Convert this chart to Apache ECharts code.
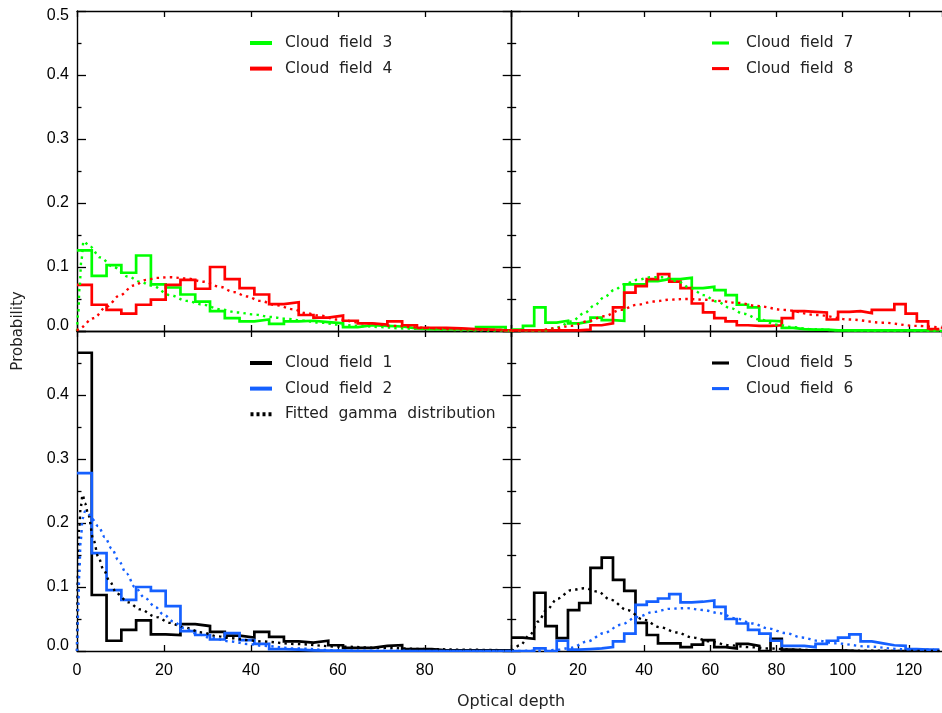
<!DOCTYPE html>
<html>
<head>
<meta charset="utf-8">
<script src="https://cdn.jsdelivr.net/npm/echarts@6/dist/echarts.min.js"></script>
<style>
  html, body { margin: 0; padding: 0; background: #ffffff; }
  #chart { width: 942px; height: 713px; }
</style>
</head>
<body>
<div id="chart"></div>
<script>
// Histogram bin width in optical depth units; bins start at 0.
const binWidth = 3.4;

// Probability per optical-depth bin for each cloud field.
const field1 = [0.466, 0.0875, 0.016, 0.033, 0.048, 0.026, 0.025, 0.042, 0.039, 0.030, 0.024, 0.021, 0.030, 0.022, 0.015, 0.013, 0.016, 0.009, 0.005, 0.005, 0.008, 0.009, 0.003, 0.003, 0.001, 0.001, 0.001, 0.001, 0.001, 0.001];
const field2 = [0.278, 0.153, 0.095, 0.080, 0.100, 0.094, 0.070, 0.031, 0.025, 0.018, 0.028, 0.017, 0.011, 0.003, 0.002, 0.001, 0.0005, 0.0005, 0, 0, 0, 0, 0, 0, 0, 0, 0, 0, 0, 0];
const field3 = [0.126, 0.086, 0.103, 0.091, 0.118, 0.073, 0.068, 0.057, 0.046, 0.031, 0.020, 0.015, 0.018, 0.011, 0.015, 0.016, 0.014, 0.012, 0.006, 0.009, 0.008, 0.007, 0.004, 0.003, 0.003, 0.003, 0.002, 0.006, 0.006, 0];
const field4 = [0.072, 0.041, 0.033, 0.027, 0.041, 0.049, 0.072, 0.080, 0.066, 0.100, 0.081, 0.067, 0.057, 0.042, 0.045, 0.025, 0.021, 0.024, 0.016, 0.012, 0.010, 0.015, 0.009, 0.005, 0.005, 0.004, 0.003, 0.002, 0.001, 0.001];
const field5 = [0.021, 0.019, 0.091, 0.039, 0.020, 0.064, 0.075, 0.130, 0.146, 0.111, 0.094, 0.044, 0.025, 0.012, 0.012, 0.006, 0.010, 0.017, 0.006, 0.004, 0.011, 0.008, 0.000, 0.019, 0.002, 0.001, 0.001, 0.001, 0.001, 0.0005, 0, 0, 0, 0, 0, 0, 0, 0];
const field6 = [0.0, 0.0, 0.004, 0.0, 0.016, 0.002, 0.003, 0.004, 0.006, 0.015, 0.027, 0.072, 0.077, 0.082, 0.089, 0.076, 0.077, 0.079, 0.069, 0.050, 0.043, 0.033, 0.027, 0.016, 0.008, 0.008, 0.006, 0.011, 0.016, 0.021, 0.026, 0.015, 0.012, 0.009, 0.008, 0.003, 0.002, 0.002];
const field7 = [0.002, 0.008, 0.037, 0.013, 0.016, 0.012, 0.015, 0.021, 0.017, 0.016, 0.073, 0.073, 0.078, 0.081, 0.081, 0.083, 0.067, 0.069, 0.064, 0.056, 0.041, 0.037, 0.016, 0.015, 0.005, 0.003, 0.002, 0.002, 0.001, 0.001, 0.001, 0.001, 0.001, 0.001, 0.001, 0.001, 0.001, 0.001];
const field8 = [0.001, 0.001, 0.001, 0.001, 0.001, 0.001, 0.002, 0.009, 0.012, 0.037, 0.060, 0.070, 0.081, 0.089, 0.077, 0.067, 0.043, 0.029, 0.020, 0.015, 0.009, 0.008, 0.008, 0.009, 0.020, 0.031, 0.030, 0.029, 0.018, 0.030, 0.031, 0.028, 0.033, 0.033, 0.042, 0.027, 0.015, 0.003];

// Fitted gamma distributions: [optical depth, probability].
const fit1 = [[0,0],[0.2,0.12],[0.5,0.19],[0.85,0.225],[1.3,0.244],[1.84,0.231],[2.6,0.213],[3.8,0.173],[4.9,0.147],[6.1,0.127],[7.6,0.108],[9.1,0.090],[11.8,0.076],[14.5,0.065],[18.3,0.053],[21.4,0.044],[24.5,0.037],[28.7,0.029],[32.2,0.023],[35.6,0.020],[39.1,0.017],[42.5,0.015],[50,0.011],[60,0.007],[70,0.005],[80,0.003],[90,0.002],[100,0.001]];
const fit2 = [[0,0],[0.05,0.017],[0.3,0.069],[0.53,0.121],[0.84,0.173],[1.3,0.207],[1.84,0.218],[2.5,0.217],[3.4,0.207],[4.9,0.195],[6.4,0.178],[8.0,0.160],[9.5,0.142],[11.4,0.121],[13.3,0.100],[15.6,0.083],[18,0.069],[19.9,0.057],[22.2,0.046],[24.5,0.036],[27.5,0.027],[30.6,0.021],[35.2,0.015],[39.1,0.011],[42.9,0.008],[50,0.004],[60,0.001],[70,0.0003],[100,0]];
const fit3 = [[0,0],[0.3,0.03],[0.6,0.07],[1.0,0.11],[1.5,0.14],[3,0.132],[5.3,0.115],[8.4,0.100],[11.8,0.085],[14.5,0.077],[17.2,0.071],[21.4,0.056],[25.2,0.047],[29.1,0.041],[32.9,0.034],[36.8,0.029],[40.6,0.026],[44.4,0.022],[48.3,0.019],[52,0.016],[56,0.013],[60,0.010],[65,0.008],[70,0.006],[75,0.004],[80,0.003],[90,0.001],[100,0.0005]];
const fit4 = [[0,0],[0.5,0.004],[3.8,0.020],[6.8,0.038],[9.9,0.056],[13,0.071],[16,0.080],[18.3,0.083],[21.4,0.084],[25.2,0.082],[29.1,0.077],[32.9,0.069],[36,0.061],[39.1,0.054],[42.1,0.047],[46,0.040],[49.8,0.034],[52.5,0.028],[55.9,0.024],[59.8,0.018],[66.3,0.012],[72.8,0.008],[79.7,0.005],[86,0.003],[93,0.002],[100,0.001]];
const fit5 = [[0,0],[2.5,0.009],[5.5,0.025],[8,0.046],[10.5,0.064],[13.9,0.082],[17.9,0.095],[21.9,0.098],[25.9,0.093],[29.9,0.080],[34.9,0.064],[39.8,0.049],[44.8,0.037],[49.8,0.029],[54.8,0.021],[59.8,0.015],[65.8,0.009],[71.7,0.006],[77.7,0.004],[85,0.002],[95,0.001],[110,0.0003],[130,0]];
const fit6 = [[0,0],[10,0.0005],[14,0.002],[17.9,0.005],[22.9,0.015],[27.9,0.028],[32.9,0.041],[37.9,0.053],[42.8,0.061],[47.8,0.066],[52.8,0.067],[57.8,0.064],[62.8,0.059],[67.7,0.051],[72.7,0.043],[77.7,0.035],[82.7,0.028],[87.7,0.021],[92.7,0.016],[97.6,0.012],[107.6,0.007],[117.6,0.003],[127.5,0.002]];
const fit7 = [[0,0],[8,0],[10,0.001],[14,0.006],[18,0.015],[22,0.028],[25,0.040],[28,0.053],[31,0.064],[34,0.073],[38,0.080],[42,0.084],[46,0.084],[50,0.078],[54,0.067],[58,0.056],[62,0.046],[66,0.036],[70,0.027],[75,0.018],[80,0.010],[85,0.006],[90,0.003],[100,0.001],[110,0.0003],[130,0]];
const fit8 = [[0,0],[8,0.001],[12.9,0.004],[17.9,0.008],[22.9,0.015],[27.9,0.023],[32.9,0.033],[37.9,0.041],[42.8,0.046],[47.8,0.049],[52.8,0.050],[57.8,0.049],[62.5,0.047],[68.3,0.044],[74.2,0.039],[82.2,0.033],[92.2,0.025],[102.1,0.018],[112.1,0.013],[122.1,0.008],[130,0.005]];

// Axis tick values.
const leftXTicks = [0, 20, 40, 60, 80, 100];
const rightXTicks = [0, 20, 40, 60, 80, 100, 120];
const yTicks = [0, 0.1, 0.2, 0.3, 0.4, 0.5];

const GREEN = '#00ff00', RED = '#ff0000', BLACK = '#000000', BLUE = '#1560ff';
const NUM_FONT = '"Liberation Sans", Arial, sans-serif';
const TEXT_FONT = '"DejaVu Sans", sans-serif';

// Legend keys: a solid bar and a row of dots.
const SOLID_ICON = 'path://M0,0H22V4H0Z';
const DOT_ICON = 'path://M0,0h3v4h-3z M6,0h3v4h-3z M12,0h3v4h-3z M18,0h3v4h-3z';

// Panel geometry: 0 top-left, 1 top-right, 2 bottom-left, 3 bottom-right.
const pxPerUnitL = 4.347, pxPerUnitR = 3.345;
const leftMax = leftXTicks[leftXTicks.length - 1];
const rightMax = 130;
const grids = [
  { left: 77, top: 11, width: leftMax * pxPerUnitL, height: 320 },
  { left: 511.7, top: 11, width: rightMax * pxPerUnitR, height: 320 },
  { left: 77, top: 331, width: leftMax * pxPerUnitL, height: 320 },
  { left: 511.7, top: 331, width: rightMax * pxPerUnitR, height: 320 }
];

const axisLine = { show: true, onZero: false, lineStyle: { color: '#000', width: 1.4 } };
const tickStyle = { color: '#000', width: 1.3 };

function steps(vals) {
  const pts = vals.map((v, k) => [k * binWidth, v]);
  pts.push([vals.length * binWidth, vals[vals.length - 1]]);
  return pts;
}

const yLabelRich = {
  lo: { fontSize: 16, fontFamily: NUM_FONT, color: '#000', padding: [0, 0, 10, 0] },
  hi: { fontSize: 16, fontFamily: NUM_FONT, color: '#000', padding: [10, 0, 0, 0] }
};
function yLabel(v) {
  const s = v.toFixed(1);
  if (v === yTicks[0]) return '{lo|' + s + '}';
  if (v === yTicks[yTicks.length - 1]) return '{hi|' + s + '}';
  return s;
}

const xAxes = [], yAxes = [];
for (let g = 0; g < 4; g++) {
  const isRight = g === 1 || g === 3;
  const isBottom = g >= 2;
  const xmax = isRight ? rightMax : leftMax;
  xAxes[g] = {
    gridIndex: g, type: 'value', min: 0, max: xmax, interval: 20, position: 'bottom',
    axisLine: axisLine,
    axisTick: { show: true, inside: true, length: 6, lineStyle: tickStyle },
    axisLabel: {
      show: isBottom, margin: 12, fontSize: 16, fontFamily: NUM_FONT, color: '#000',
      showMaxLabel: false, showMinLabel: true,
      formatter: v => String(v)
    },
    splitLine: { show: false }
  };
  xAxes[g + 4] = {
    gridIndex: g, type: 'value', min: 0, max: xmax, interval: 20, position: 'top',
    axisLine: axisLine,
    axisTick: { show: true, inside: true, length: 6, lineStyle: tickStyle },
    axisLabel: { show: false }, splitLine: { show: false }
  };
  yAxes[g] = {
    gridIndex: g, type: 'value', min: yTicks[0], max: yTicks[yTicks.length - 1], interval: 0.1, position: 'left',
    axisLine: axisLine,
    axisTick: { show: true, inside: true, length: 9, lineStyle: tickStyle },
    minorTick: { show: true, splitNumber: 2, length: 4.5, lineStyle: tickStyle },
    axisLabel: {
      show: !isRight, margin: 8, fontSize: 16, fontFamily: NUM_FONT, color: '#000',
      showMaxLabel: !isBottom, formatter: yLabel, rich: yLabelRich
    },
    splitLine: { show: false }, minorSplitLine: { show: false }
  };
  yAxes[g + 4] = {
    gridIndex: g, type: 'value', min: yTicks[0], max: yTicks[yTicks.length - 1], interval: 0.1, position: 'right',
    show: !isRight,
    axisLine: axisLine,
    axisTick: { show: true, inside: true, length: 9, lineStyle: tickStyle },
    minorTick: { show: true, splitNumber: 2, length: 4.5, lineStyle: tickStyle },
    axisLabel: { show: false }, splitLine: { show: false }, minorSplitLine: { show: false }
  };
}

function histSeries(name, vals, color, g, z) {
  return {
    name, type: 'line', xAxisIndex: g, yAxisIndex: g, data: steps(vals), step: 'end',
    showSymbol: false, symbol: 'none', z: z, clip: true,
    lineStyle: { color, width: 2.7, join: 'miter' }, itemStyle: { color },
    emphasis: { disabled: true }, silent: true, animation: false
  };
}
function fitSeries(name, pts, color, g) {
  return {
    name, type: 'line', xAxisIndex: g, yAxisIndex: g, data: pts,
    smooth: 0.35, smoothMonotone: 'x', showSymbol: false, symbol: 'none', z: 5, clip: true,
    lineStyle: { color, width: 2.4, type: [2.4, 4.2], cap: 'butt' }, itemStyle: { color },
    emphasis: { disabled: true }, silent: true, animation: false
  };
}

const series = [
  histSeries('Cloud  field  3', field3, GREEN, 0, 2),
  histSeries('Cloud  field  4', field4, RED, 0, 3),
  histSeries('Cloud  field  7', field7, GREEN, 1, 2),
  histSeries('Cloud  field  8', field8, RED, 1, 3),
  histSeries('Cloud  field  1', field1, BLACK, 2, 2),
  histSeries('Cloud  field  2', field2, BLUE, 2, 3),
  histSeries('Cloud  field  5', field5, BLACK, 3, 2),
  histSeries('Cloud  field  6', field6, BLUE, 3, 3),
  fitSeries('Fitted  gamma  distribution', fit1, BLACK, 2),
  fitSeries('gamma fit 2', fit2, BLUE, 2),
  fitSeries('gamma fit 3', fit3, GREEN, 0),
  fitSeries('gamma fit 4', fit4, RED, 0),
  fitSeries('gamma fit 5', fit5, BLACK, 3),
  fitSeries('gamma fit 6', fit6, BLUE, 3),
  fitSeries('gamma fit 7', fit7, GREEN, 1),
  fitSeries('gamma fit 8', fit8, RED, 1)
];

function legend(items, left, top, iconW, textGap) {
  return {
    data: items.map(([name, icon]) => ({ name, icon })), left, top, orient: 'vertical', selectedMode: false,
    itemWidth: iconW, itemHeight: 4, itemGap: 7.6, padding: 0,
    textStyle: { fontSize: 15.5, fontFamily: TEXT_FONT, color: '#222', lineHeight: 18, padding: [0, 0, 0, textGap] }
  };
}

const option = {
  backgroundColor: '#ffffff',
  animation: false,
  grid: grids.map(g => Object.assign({ containLabel: false, show: false }, g)),
  xAxis: xAxes,
  yAxis: yAxes,
  legend: [
    legend([['Cloud  field  3', SOLID_ICON], ['Cloud  field  4', SOLID_ICON]], 250, 34, 22, 8),
    legend([['Cloud  field  7', SOLID_ICON], ['Cloud  field  8', SOLID_ICON]], 712, 34, 17, 12),
    legend([['Cloud  field  1', SOLID_ICON], ['Cloud  field  2', SOLID_ICON], ['Fitted  gamma  distribution', DOT_ICON]], 250, 354, 22, 8),
    legend([['Cloud  field  5', SOLID_ICON], ['Cloud  field  6', SOLID_ICON]], 712, 354, 17, 12)
  ],
  graphic: [
    { type: 'text', x: 18, y: 331, rotation: Math.PI / 2,
      style: { text: 'Probability', fill: '#222', font: '15px ' + TEXT_FONT, textAlign: 'center', textVerticalAlign: 'middle', verticalAlign: 'middle' } },
    { type: 'text', x: 511, y: 702,
      style: { text: 'Optical depth', fill: '#222', font: '16px ' + TEXT_FONT, textAlign: 'center', textVerticalAlign: 'middle', verticalAlign: 'middle' } }
  ],
  series
};

const chart = echarts.init(document.getElementById('chart'), null, { renderer: 'canvas' });
chart.setOption(option);
</script>
</body>
</html>
